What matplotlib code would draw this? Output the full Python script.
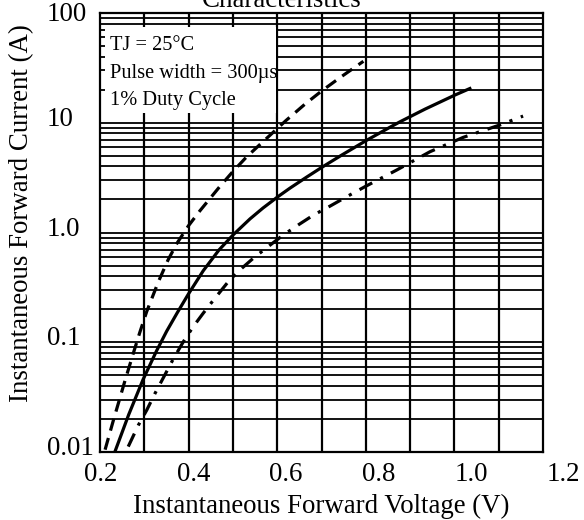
#%%
import matplotlib
matplotlib.use("Agg")
import matplotlib.pyplot as plt
import matplotlib.transforms as mtransforms
from matplotlib.patches import Rectangle
from matplotlib.ticker import NullFormatter
import numpy as np

plt.rcParams['font.family'] = ['Liberation Serif', 'DejaVu Serif']

# %%
# Curves (V, A)
v_dash = [0.209, 0.227, 0.252, 0.270, 0.284, 0.299, 0.324, 0.345, 0.364, 0.389,
          0.414, 0.457, 0.486, 0.515, 0.561, 0.600, 0.641, 0.677, 0.716, 0.767]
i_dash = [0.0105, 0.0195, 0.0447, 0.0794, 0.123, 0.191, 0.355, 0.562, 0.794, 1.15,
          1.58, 2.63, 3.63, 4.90, 7.41, 10.5, 14.8, 19.5, 25.7, 36.3]

v_solid = [0.230, 0.260, 0.291, 0.320, 0.342, 0.365, 0.389, 0.421, 0.455, 0.486,
           0.522, 0.550, 0.583, 0.608, 0.644, 0.677, 0.720, 0.774, 0.824, 0.846,
           0.900, 0.965, 0.997]
i_solid = [0.0100, 0.0219, 0.0457, 0.0832, 0.126, 0.186, 0.275, 0.448, 0.693, 0.955,
           1.33, 1.67, 2.13, 2.53, 3.19, 3.92, 5.07, 6.92, 9.08, 10.2,
           13.3, 17.9, 20.5]

v_dashdot = [0.259, 0.281, 0.299, 0.317, 0.338, 0.356, 0.378, 0.399, 0.421, 0.446,
             0.475, 0.500, 0.529, 0.561, 0.594, 0.626, 0.659, 0.695, 0.731, 0.770,
             0.839, 0.911, 0.983, 1.062, 1.112]
i_dashdot = [0.0112, 0.0176, 0.0241, 0.0343, 0.0503, 0.070, 0.101, 0.138, 0.184, 0.251,
             0.356, 0.455, 0.582, 0.743, 0.949, 1.17, 1.44, 1.74, 2.12, 2.61,
             3.71, 5.45, 7.37, 9.55, 11.5]

x_ticks = [0.2, 0.4, 0.6, 0.8, 1.0, 1.2]
x_tick_labels = ["0.2", "0.4", "0.6", "0.8", "1.0", "1.2"]
y_ticks = [0.01, 0.1, 1, 10, 100]
y_tick_labels = ["0.01", "0.1", "1.0", "10", "100"]
notes = ["TJ = 25°C", "Pulse width = 300µs", "1% Duty Cycle"]

# %%
fig = plt.figure(figsize=(5.84, 5.20), dpi=100)
ax = fig.add_axes([100/584, 68/520, 443/584, 439/520])
ax.set_yscale('log')
ax.set_ylim(0.01, 100)
ax.set_xlim(0.198, 1.155)

# grid: log lines horizontally, 10 even columns vertically
ax.grid(True, which='both', axis='y', color='black', lw=1.3)
ax.vlines(np.linspace(0, 1, 11)[1:-1], 0, 1, transform=ax.transAxes,
          colors='black', lw=1.6)
ax.tick_params(which='both', length=0, labelleft=False, labelbottom=False)
ax.yaxis.set_minor_formatter(NullFormatter())
for s in ax.spines.values():
    s.set_linewidth(1.6)
    s.set_color('black')

# curves
ax.plot(v_dash, i_dash, color='black', lw=2.3, dashes=(3.8, 2.4), zorder=3)
ax.plot(v_solid, i_solid, color='black', lw=2.3, zorder=3)
ax.plot(v_dashdot, i_dashdot, color='black', lw=2.3, dashes=(4.5, 2.8, 1.0, 2.8), zorder=3)

# note box
ax.add_patch(Rectangle((0.011, 0.772), 0.386, 0.196, transform=ax.transAxes,
                       facecolor='white', edgecolor='none', zorder=2.5))
for k, txt in enumerate(notes):
    ax.text(0.0226, 0.925 - k*0.062, txt, transform=ax.transAxes, fontsize=14.7,
            ha='left', va='center', zorder=4)

# tick labels
ytrans = mtransforms.offset_copy(ax.get_yaxis_transform(), fig=fig, x=-53, y=-3, units='dots')
ytop = mtransforms.offset_copy(ax.get_yaxis_transform(), fig=fig, x=-53, y=-8, units='dots')
for v, lab in zip(y_ticks, y_tick_labels):
    ax.text(0, v, lab, transform=ytop if v == y_ticks[-1] else ytrans,
            fontsize=19.4, ha='left', va='baseline', clip_on=False)
xtrans = mtransforms.offset_copy(ax.get_xaxis_transform(), fig=fig, x=0, y=-29, units='dots')
for v, lab in zip(x_ticks, x_tick_labels):
    ax.text(v, 0, lab, transform=xtrans, fontsize=19.4, ha='center', va='baseline', clip_on=False)

ax.set_xlabel("Instantaneous Forward Voltage (V)", fontsize=19.4, labelpad=30)
ax.set_ylabel("Instantaneous Forward Current (A)", fontsize=19.4)
ax.yaxis.set_label_coords(-0.149, 0.545)
fig.text(281.7/584, 1 - 7/520, "Characteristics", fontsize=19.4, ha='center', va='baseline')

fig.savefig("out.png", dpi=100)
